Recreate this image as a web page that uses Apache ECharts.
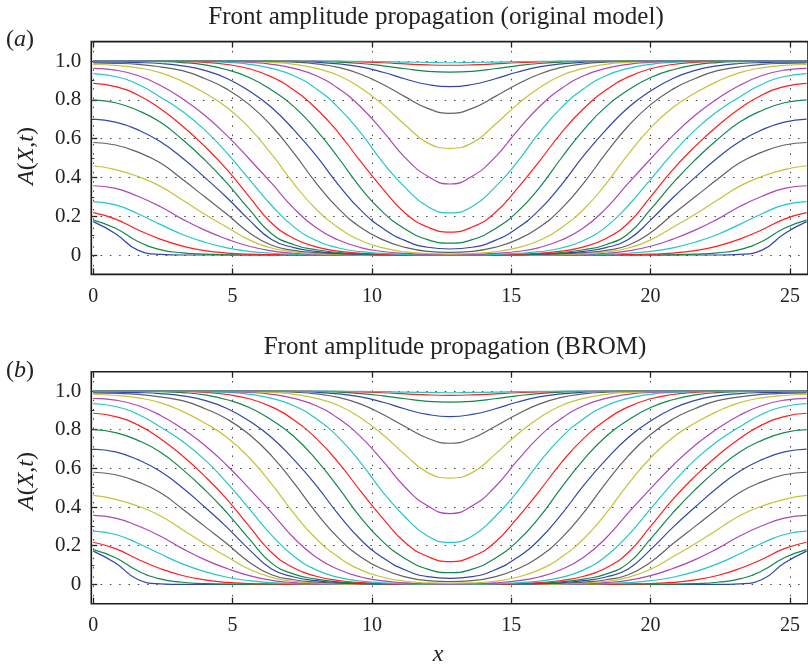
<!DOCTYPE html>
<html><head><meta charset="utf-8">
<script src="https://cdn.jsdelivr.net/npm/echarts@6/dist/echarts.min.js"></script>
<style>html,body{margin:0;padding:0;background:#fff}#c{width:808px;height:666px}</style>
</head><body><div id="c"></div>
<script>
const xs = [0,0.8,1.6,2.4,3.2,4,4.8,5.6,6.4,7.2,8,8.8,9.6,10.4,11.2,12,12.8,13.6,14.4,15.2,16,16.8,17.6,18.4,19.2,20,20.8,21.6,22.4,23.2,24,24.8,25.6];
const xTicks = [0,5,10,15,20,25];
const yTicks = [0,0.2,0.4,0.6,0.8,1.0];

const curve01 = [.172,.11,.025,.003,0,0,0,0,0,0,0,0,0,0,0,0,0,0,0,0,0,0,0,0,0,0,0,0,0,.003,.025,.11,.172];
const curve02 = [.18,.138,.07,.028,.011,.004,.001,0,0,0,0,0,0,0,0,0,0,0,0,0,0,0,0,0,0,0,.001,.004,.011,.028,.07,.138,.18];
const curve03 = [.218,.185,.13,.082,.046,.023,.01,.004,.002,.001,0,0,0,0,0,0,0,0,0,0,0,0,0,.001,.002,.004,.01,.023,.046,.082,.13,.185,.218];
const curve04 = [.275,.258,.213,.158,.106,.066,.037,.019,.009,.004,.002,.001,0,0,0,0,0,0,0,0,0,.001,.002,.004,.009,.019,.037,.066,.106,.158,.213,.258,.275];
const curve05 = [.357,.343,.303,.25,.185,.128,.082,.045,.021,.009,.004,.002,.001,0,0,0,0,0,0,0,.001,.002,.004,.009,.021,.045,.082,.128,.185,.25,.303,.343,.357];
const curve06 = [.46,.44,.405,.355,.283,.21,.143,.078,.036,.016,.007,.003,.001,0,0,0,0,0,0,0,.001,.003,.007,.016,.036,.078,.143,.21,.283,.355,.405,.44,.46];
const curve07 = [.58,.567,.53,.475,.39,.30,.21,.115,.05,.024,.012,.006,.003,.001,0,0,0,0,0,.001,.003,.006,.012,.024,.05,.115,.21,.30,.39,.475,.53,.567,.58];
const curve08 = [.70,.685,.645,.585,.50,.40,.295,.18,.08,.038,.019,.009,.004,.002,.001,0,0,0,.001,.002,.004,.009,.019,.038,.08,.18,.295,.40,.50,.585,.645,.685,.70];
const curve09 = [.80,.785,.745,.685,.595,.49,.37,.235,.11,.053,.027,.013,.006,.003,.001,0,0,0,.001,.003,.006,.013,.027,.053,.11,.235,.37,.49,.595,.685,.745,.785,.80];
const curve10 = [.885,.868,.825,.755,.665,.56,.44,.30,.165,.085,.042,.02,.009,.004,.002,.001,0,.001,.002,.004,.009,.02,.042,.085,.165,.30,.44,.56,.665,.755,.825,.868,.885];
const curve11 = [.935,.92,.88,.815,.74,.645,.525,.39,.255,.145,.075,.036,.017,.008,.003,.001,.001,.001,.003,.008,.017,.036,.075,.145,.255,.39,.525,.645,.74,.815,.88,.92,.935];
const curve12 = [.962,.953,.925,.875,.805,.72,.615,.495,.37,.24,.14,.077,.038,.018,.008,.004,.003,.004,.008,.018,.038,.077,.14,.24,.37,.495,.615,.72,.805,.875,.925,.953,.962];
const curve13 = [.982,.977,.965,.94,.895,.835,.76,.655,.52,.367,.236,.141,.075,.037,.016,.008,.005,.008,.016,.037,.075,.141,.236,.367,.52,.655,.76,.835,.895,.94,.965,.977,.982];
const curve14 = [.99,.988,.983,.97,.95,.91,.855,.775,.665,.525,.371,.239,.142,.078,.039,.019,.014,.019,.039,.078,.142,.239,.371,.525,.665,.775,.855,.91,.95,.97,.983,.988,.99];
const curve15 = [.995,.994,.992,.987,.975,.952,.91,.845,.76,.645,.512,.362,.231,.137,.074,.04,.031,.04,.074,.137,.231,.362,.512,.645,.76,.845,.91,.952,.975,.987,.992,.994,.995];
const curve16 = [1,1,.999,.997,.992,.98,.955,.915,.85,.765,.645,.5,.345,.22,.133,.079,.061,.079,.133,.22,.345,.5,.645,.765,.85,.915,.955,.98,.992,.997,.999,1,1];
const curve17 = [1,1,1,.999,.997,.993,.982,.96,.918,.85,.755,.63,.481,.34,.215,.144,.118,.144,.215,.34,.481,.63,.755,.85,.918,.96,.982,.993,.997,.999,1,1,1];
const curve18 = [1,1,1,1,.999,.997,.993,.983,.962,.924,.857,.76,.629,.476,.347,.25,.217,.25,.347,.476,.629,.76,.857,.924,.962,.983,.993,.997,.999,1,1,1,1];
const curve19 = [1,1,1,1,1,.999,.997,.993,.983,.962,.924,.858,.763,.637,.501,.406,.366,.406,.501,.637,.763,.858,.924,.962,.983,.993,.997,.999,1,1,1,1,1];
const curve20 = [1,1,1,1,1,1,.999,.997,.993,.983,.962,.925,.861,.774,.67,.578,.55,.578,.67,.774,.861,.925,.962,.983,.993,.997,.999,1,1,1,1,1,1];
const curve21 = [1,1,1,1,1,1,1,.999,.998,.994,.985,.967,.932,.879,.815,.756,.73,.756,.815,.879,.932,.967,.985,.994,.998,.999,1,1,1,1,1,1,1];
const curve22 = [1,1,1,1,1,1,1,1,.999,.998,.994,.985,.97,.942,.907,.879,.868,.879,.907,.942,.97,.985,.994,.998,.999,1,1,1,1,1,1,1,1];
const curve23 = [1,1,1,1,1,1,1,1,1,.999,.998,.994,.987,.975,.96,.947,.943,.947,.96,.975,.987,.994,.998,.999,1,1,1,1,1,1,1,1,1];
const curve24 = [1,1,1,1,1,1,1,1,1,1,.999,.998,.995,.991,.985,.98,.978,.98,.985,.991,.995,.998,.999,1,1,1,1,1,1,1,1,1,1];
const curve25 = [1,1,1,1,1,1,1,1,1,1,1,.999,.998,.9965,.994,.993,.991,.993,.994,.9965,.998,.999,1,1,1,1,1,1,1,1,1,1,1];

const curves = [curve01,curve02,curve03,curve04,curve05,curve06,curve07,curve08,curve09,curve10,curve11,curve12,curve13,curve14,curve15,curve16,curve17,curve18,curve19,curve20,curve21,curve22,curve23,curve24,curve25];
const lineColors = ['#3346a6','#12874a','#ff1f1f','#26c6c6','#ac47b6','#c6c23c','#626262'];
const panelTitles = ['Front amplitude propagation (original model)','Front amplitude propagation (BROM)'];
const panelTags = ['a','b'];

const SERIF = '"Liberation Serif","Times New Roman",serif';
const gridPos = [
  {left:91.3, top:41.6, width:718.9, height:232.8},
  {left:91.3, top:371.7, width:718.9, height:232}
];

const grids = [], xAxes = [], yAxes = [], series = [];
gridPos.forEach((g, i) => {
  grids.push(Object.assign({show:true, borderColor:'#1b1b1b', borderWidth:1.6, backgroundColor:'transparent'}, g));
  xAxes.push({
    type:'value', gridIndex:i, min:-0.07, max:25.65, position:'bottom',
    axisLine:{show:false, onZero:false},
    axisTick:{show:true, inside:true, length:6, customValues:xTicks, lineStyle:{color:'#222', width:1.3}},
    axisLabel:{show:true, customValues:xTicks, margin:12, fontFamily:SERIF, fontSize:20, color:'#222', formatter:v=>String(v)},
    splitLine:{show:true, lineStyle:{type:[1.5,7.8], color:'#444', width:1}}
  });
  xAxes.push({
    type:'value', gridIndex:i, min:-0.07, max:25.65, position:'top',
    axisLine:{show:false, onZero:false},
    axisTick:{show:true, inside:true, length:6, customValues:xTicks, lineStyle:{color:'#222', width:1.3}},
    axisLabel:{show:false}, splitLine:{show:false}
  });
  yAxes.push({
    type:'value', gridIndex:i, min:-0.1, max:1.1, position:'left',
    axisLine:{show:false, onZero:false},
    axisTick:{show:true, inside:true, length:6, customValues:yTicks, lineStyle:{color:'#222', width:1.3}},
    axisLabel:{show:true, customValues:yTicks, margin:10, fontFamily:SERIF, fontSize:21, color:'#222',
      formatter:v=> (Math.abs(v) < 1e-9 ? '0' : v.toFixed(1))},
    splitLine:{show:true, lineStyle:{type:[1.5,7.8], color:'#444', width:1}}
  });
  yAxes.push({
    type:'value', gridIndex:i, min:-0.1, max:1.1, interval:0.1, position:'left',
    axisLine:{show:false, onZero:false},
    axisTick:{show:true, inside:true, length:3, lineStyle:{color:'#333', width:1}},
    axisLabel:{show:false}, splitLine:{show:false}
  });
  curves.forEach((c, k) => {
    series.push({
      type:'line', xAxisIndex:2*i, yAxisIndex:2*i,
      data: xs.map((x, j) => [x, c[j]]),
      showSymbol:false, symbol:'none', smooth:0.5,
      lineStyle:{width:1.2, color:lineColors[k % 7]},
      silent:true, animation:false, z:2
    });
  });
});

const italic = {i:{fontStyle:'italic', fontFamily:SERIF, fontSize:24, fill:'#222'}, n:{fontFamily:SERIF, fontSize:24, fill:'#222'}};
const graphics = [
  {type:'text', x:436, y:17, style:{text:panelTitles[0], font:'25px ' + SERIF, fill:'#222', textAlign:'center', textVerticalAlign:'middle'}},
  {type:'text', x:455, y:347, style:{text:panelTitles[1], font:'25px ' + SERIF, fill:'#222', textAlign:'center', textVerticalAlign:'middle'}},
  {type:'text', x:20, y:40, style:{text:'{n|(}{i|' + panelTags[0] + '}{n|)}', rich:italic, textAlign:'center', textVerticalAlign:'middle'}},
  {type:'text', x:20, y:371, style:{text:'{n|(}{i|' + panelTags[1] + '}{n|)}', rich:italic, textAlign:'center', textVerticalAlign:'middle'}},
  {type:'text', x:27, y:156, rotation:Math.PI/2, style:{text:'{i|A}{n|(}{i|X}{n|,}{i|t}{n|)}', rich:italic, textAlign:'center', textVerticalAlign:'middle'}},
  {type:'text', x:27, y:481, rotation:Math.PI/2, style:{text:'{i|A}{n|(}{i|X}{n|,}{i|t}{n|)}', rich:italic, textAlign:'center', textVerticalAlign:'middle'}},
  {type:'text', x:438, y:655, style:{text:'{i|x}', rich:italic, textAlign:'center', textVerticalAlign:'middle'}}
];

const chart = echarts.init(document.getElementById('c'), null, {renderer:'canvas'});
chart.setOption({
  animation:false,
  backgroundColor:'#fff',
  grid:grids, xAxis:xAxes, yAxis:yAxes, series:series, graphic:graphics
});
</script>
</body></html>
